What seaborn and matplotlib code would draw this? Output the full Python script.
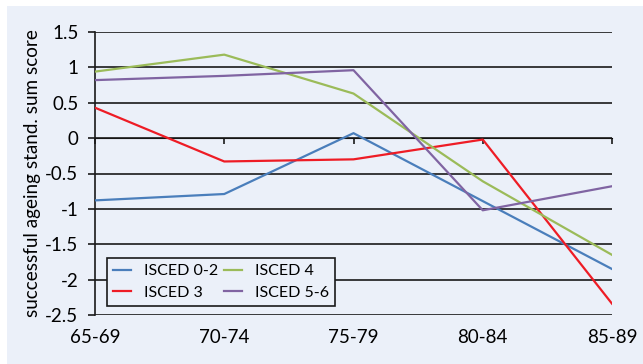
import numpy as np
import pandas as pd
import seaborn as sns
import matplotlib.pyplot as plt
from matplotlib.patches import Rectangle

# data
age_groups = ["65-69", "70-74", "75-79", "80-84", "85-89"]
isced_0_2 = [-0.88, -0.79, 0.07, -0.89, -1.85]
isced_3 = [0.43, -0.33, -0.30, -0.02, -2.34]
isced_4 = [0.94, 1.18, 0.63, -0.61, -1.65]
isced_5_6 = [0.82, 0.88, 0.96, -1.02, -0.68]

series_names = ["ISCED 0-2", "ISCED 3", "ISCED 4", "ISCED 5-6"]
colors = ["#4A7EBB", "#EE1C25", "#9BBB59", "#8064A2"]

rows = []
for name, vals in zip(series_names, [isced_0_2, isced_3, isced_4, isced_5_6]):
    for ag, v in zip(age_groups, vals):
        rows.append({"age": ag, "score": v, "group": name})
df = pd.DataFrame(rows)

plt.rcParams['font.family'] = ['Lato', 'DejaVu Sans']
bg = "#EBF0F9"

fig = plt.figure(figsize=(6.43, 3.64), dpi=100, facecolor="white")
fig.patches.append(Rectangle((7 / 643, 0), 1, 1 - 6 / 364, transform=fig.transFigure,
                             facecolor=bg, edgecolor="none", zorder=-10))
ax = fig.add_axes([95 / 643, 1 - 315 / 364, (612 - 95) / 643, (315 - 32) / 364])
ax.set_facecolor(bg)

sns.lineplot(data=df, x="age", y="score", hue="group", palette=colors,
             sort=False, linewidth=1.6, ax=ax, zorder=3)

ax.set_xlim(0, len(age_groups) - 1)
ax.set_ylim(-2.5, 1.5)
ax.set_yticks(np.arange(-2.5, 1.51, 0.5))
ax.set_yticklabels([f"{t:g}" for t in np.arange(-2.5, 1.51, 0.5)])
ax.yaxis.grid(True, color="#1a1a1a", linewidth=1.2)
ax.set_axisbelow(True)

for s in ["top", "right", "bottom"]:
    ax.spines[s].set_visible(False)
ax.spines["left"].set_color("#1a1a1a")
ax.spines["left"].set_linewidth(1.2)

ax.tick_params(axis="y", length=5, width=1.2, color="#1a1a1a", pad=7, labelsize=13.5)
ax.tick_params(axis="x", length=0, pad=10, labelsize=13.5)

# x axis line crossing at zero with small ticks
sec = ax.secondary_xaxis(2.5 / 4)
sec.spines["bottom"].set_visible(False)
sec.set_xticks(range(len(age_groups)))
sec.tick_params(axis="x", direction="out", length=4, width=1.2, color="#1a1a1a",
                labelbottom=False, labeltop=False, bottom=True, top=False)

ax.set_xlabel("")
ax.set_ylabel("successful ageing stand. sum score", fontsize=13.6, labelpad=3)

leg = ax.legend(ncol=2, loc="lower left", bbox_to_anchor=(0.023, 0.032),
                frameon=True, fancybox=False, fontsize=11.5, handlelength=1.1,
                columnspacing=0.4, handletextpad=0.8, labelspacing=0.45,
                borderpad=0.4, borderaxespad=0)
leg.get_frame().set_edgecolor("#1a1a1a")
leg.get_frame().set_facecolor(bg)
leg.get_frame().set_alpha(1)
leg.get_frame().set_linewidth(1.2)

fig.savefig("out.png", dpi=100, facecolor=fig.get_facecolor())
